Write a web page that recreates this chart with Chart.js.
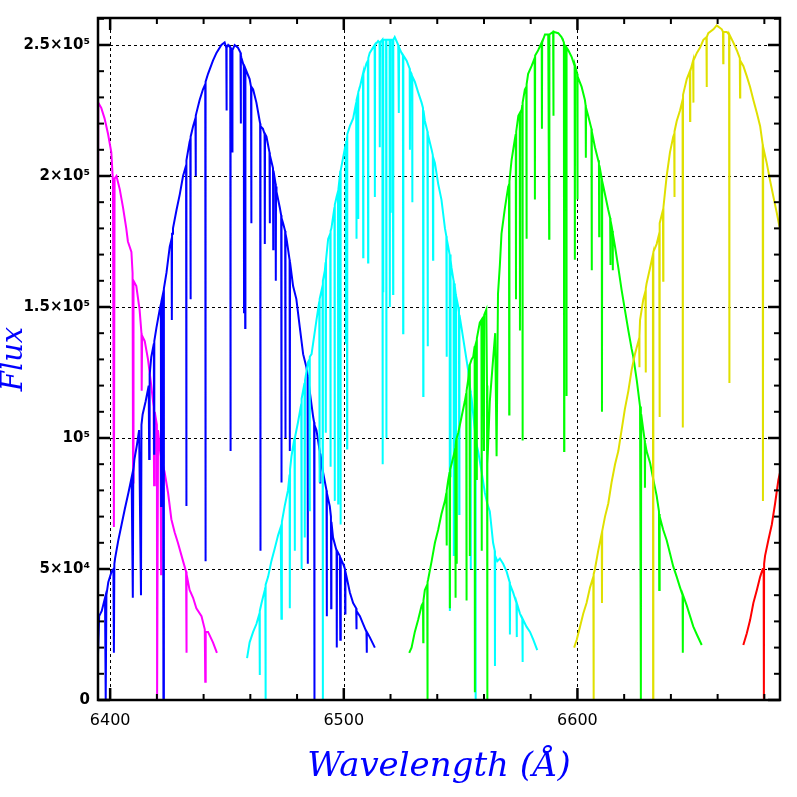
<!DOCTYPE html>
<html>
<head>
<meta charset="utf-8">
<script src="https://cdn.jsdelivr.net/npm/chart.js@4.4.1/dist/chart.umd.min.js"></script>
<style>
  html, body { margin: 0; padding: 0; background: #fff; overflow: hidden; }
  #wrap { width: 797px; height: 797px; }
</style>
</head>
<body>
<div id="wrap"><canvas id="c" width="797" height="797"></canvas></div>
<script>
// ---- Data: [wavelength (Å), flux (in units of 10^3)] ----
const FLUX_UNIT = 1000;

const magentaOrder = [[6394.6,76],[6394.9,228],[6396.2,226],[6397.6,222],[6399.1,216],[6400.5,209],[6401.2,198],[6401.6,66],[6401.9,199],[6402.7,200],[6404.1,195],[6405.5,188],[6406.9,180],[6407.6,175],[6409.1,171],[6409.6,163],[6409.8,83],[6410.0,160],[6411.2,158],[6412.6,149],[6413.4,140],[6413.5,118],[6413.7,139],[6414.8,137],[6416.2,130],[6417.6,120],[6418.6,112],[6418.8,82],[6419.1,110],[6420.0,105],[6420.1,0],[6420.5,103],[6421.6,93],[6421.8,48],[6421.9,92],[6423.3,87],[6424.8,79],[6426.2,69],[6427.6,64],[6429.0,60],[6431.2,53],[6432.5,49],[6432.6,18],[6432.8,48],[6434.0,42],[6435.5,39],[6436.9,35],[6439.1,32],[6440.5,27],[6440.7,7],[6440.9,26],[6441.9,26],[6444.0,22],[6445.7,18]];

const blueOrder = [[6394.6,11.5],[6395.3,32],[6396.4,34],[6397.8,39],[6398.1,0],[6398.4,40],[6399.2,45],[6400.6,49],[6401.4,50],[6401.6,18],[6401.8,52],[6402.1,54],[6403.5,61],[6404.9,67],[6406.3,73],[6407.8,79],[6409.2,85],[6409.7,39],[6409.9,87],[6410.4,92],[6411.4,97],[6412.4,103],[6413.2,40],[6413.4,105],[6413.9,109],[6415.2,114],[6416.5,120],[6416.7,92],[6416.9,124],[6417.6,131],[6418.7,136],[6418.8,94],[6418.9,137],[6419.8,142],[6421.2,149],[6421.7,151],[6421.8,74],[6421.9,152],[6422.6,155],[6422.8,0],[6423.0,157],[6424.1,163],[6425.5,173],[6426.3,176],[6426.4,145],[6426.5,178],[6426.9,180],[6428.4,187],[6429.8,193],[6431.2,200],[6432.5,204],[6432.6,74],[6432.7,206],[6434.0,213],[6434.3,214],[6434.4,153],[6434.5,215],[6435.5,219],[6436.5,222],[6436.6,200],[6436.7,223],[6436.9,224],[6438.3,229],[6439.7,233],[6440.7,235],[6440.8,53],[6440.9,236],[6441.9,239],[6444.0,244],[6445.5,247],[6447.6,250],[6449.0,251],[6449.7,249],[6449.8,225],[6449.9,249],[6450.5,250],[6451.4,249],[6451.5,95],[6451.6,249],[6452.2,248],[6452.3,209],[6452.4,248],[6453.3,250],[6454.7,249],[6455.8,247],[6455.9,220],[6456.0,246],[6456.2,245],[6457.2,242],[6457.3,148],[6457.4,242],[6457.7,241],[6457.8,142],[6457.9,241],[6459.7,237],[6460.3,234],[6460.4,182],[6460.5,234],[6461.2,233],[6462.6,228],[6464.0,221],[6464.2,220],[6464.3,57],[6464.4,219],[6465.4,218],[6466.1,216],[6466.2,174],[6466.3,216],[6466.9,215],[6468.2,209],[6468.3,182],[6468.4,208],[6469.7,203],[6469.8,172],[6469.9,202],[6470.8,197],[6470.9,160],[6471.0,196],[6471.2,194],[6472.6,188],[6473.2,185],[6473.3,83],[6473.4,184],[6474.0,182],[6474.9,179],[6475.0,100],[6475.1,178],[6475.5,176],[6476.8,168],[6476.9,95],[6477.0,167],[6478.3,158],[6479.7,153],[6481.2,142],[6482.6,132],[6484.0,127],[6484.5,124],[6484.6,52],[6484.7,123],[6485.4,118],[6486.9,108],[6487.3,106],[6487.4,0],[6487.5,105],[6488.3,103],[6489.7,95],[6489.9,83],[6490.0,94],[6491.1,87],[6492.6,80],[6492.7,32],[6492.8,79],[6494.0,74],[6494.5,70],[6494.6,35],[6494.7,68],[6495.4,62],[6496.9,57],[6497.0,20],[6497.1,57],[6498.3,55],[6498.5,23],[6498.7,54],[6499.7,52],[6500.5,50],[6500.6,33],[6500.7,49],[6501.2,47],[6502.6,41],[6504.0,37],[6505.3,35],[6505.4,27],[6505.5,34],[6506.9,32],[6508.3,29],[6509.7,26],[6509.8,18],[6509.9,26],[6511.1,24],[6513.3,20]];

const cyanOrder = [[6458.6,16],[6459.7,22],[6461.2,26],[6462.6,29],[6463.9,33],[6464.0,9.5],[6464.1,34],[6464.8,37],[6466.2,42],[6466.4,43],[6466.5,0],[6466.6,44],[6467.6,47],[6469.0,53],[6470.5,58],[6471.9,63],[6473.0,66],[6473.3,31],[6473.5,68],[6474.7,74],[6476.1,80],[6476.8,86],[6476.9,35],[6477.0,88],[6477.6,93],[6478.9,100],[6479.0,57],[6479.1,100],[6480.4,106],[6481.8,113],[6481.9,50],[6482.0,115],[6483.2,121],[6483.3,62],[6483.4,122],[6484.7,129],[6485.3,130],[6485.4,72],[6485.5,131],[6486.2,132],[6488.3,145],[6489.5,152],[6489.6,83],[6489.7,153],[6490.9,158],[6491.0,0],[6491.1,160],[6491.9,164],[6492.2,167],[6492.3,102],[6492.4,168],[6493.3,176],[6494.2,178],[6494.3,89],[6494.4,179],[6494.7,180],[6496.0,188],[6496.1,76],[6496.2,189],[6496.9,192],[6497.5,194],[6497.6,75],[6497.7,195],[6498.3,200],[6498.5,202],[6498.6,67],[6498.7,202],[6499.7,207],[6500.8,212],[6500.9,136],[6501.0,213],[6501.3,215],[6501.4,96],[6501.5,216],[6502.6,219],[6504.0,222],[6505.3,228],[6505.4,176],[6505.5,229],[6506.0,231],[6506.1,184],[6506.2,232],[6506.9,234],[6508.2,239],[6508.3,169],[6508.4,239],[6509.7,243],[6510.3,244],[6510.4,167],[6510.5,245],[6511.1,247],[6513.2,250],[6513.3,192],[6513.4,250],[6514.7,251.5],[6515.3,251],[6515.4,211],[6515.5,251],[6516.5,252],[6516.6,90],[6516.7,252],[6516.8,156],[6516.9,252],[6518.1,252],[6518.2,100],[6518.3,252],[6519.6,252],[6519.7,150],[6519.8,252],[6520.0,252],[6520.1,186],[6520.2,252],[6521.0,252],[6521.1,155],[6521.2,252],[6521.8,253],[6523.3,250],[6523.5,249],[6523.6,224],[6523.7,249],[6524.7,247],[6525.3,246],[6525.4,140],[6525.5,246],[6526.9,244],[6528.2,241],[6528.3,210],[6528.4,240],[6529.0,239],[6529.2,238],[6529.3,190],[6529.4,238],[6530.4,236],[6531.8,232],[6533.3,228],[6533.9,226],[6534.0,116],[6534.1,225],[6534.7,221],[6535.8,217],[6535.9,135],[6536.0,216],[6537.6,210],[6538.1,208],[6538.2,168],[6538.3,207],[6539.0,205],[6540.4,197],[6541.8,191],[6543.3,180],[6543.9,177],[6544.0,131],[6544.1,176],[6544.7,173],[6545.3,170],[6545.4,34],[6545.5,170],[6545.6,169],[6545.7,85],[6545.8,168],[6546.1,165],[6547.0,160],[6547.1,55],[6547.2,159],[6547.5,158],[6547.9,155],[6548.0,52],[6548.1,154],[6549.0,150],[6549.3,148],[6549.4,71],[6549.5,147],[6550.4,142],[6551.8,134],[6553.2,126],[6554.2,118],[6554.3,50],[6554.4,117],[6554.7,115],[6556.1,103],[6556.3,100],[6556.4,0],[6556.5,99],[6557.5,95],[6559.0,87],[6560.4,79],[6561.4,75],[6562.5,72],[6563.9,60],[6564.6,57],[6564.7,13],[6564.8,55],[6565.7,53],[6566.8,54],[6568.2,52],[6569.7,49],[6571.0,45],[6571.1,25],[6571.2,44],[6572.5,41],[6573.9,37],[6574.0,24],[6574.1,37],[6575.4,33],[6576.4,31],[6576.5,14.5],[6576.6,31],[6578.2,28],[6579.7,26],[6581.1,23],[6582.8,19]];

const greenOrder = [[6528.0,18],[6529.0,20],[6530.4,26],[6531.8,30.5],[6533.3,36],[6533.9,37],[6534.0,22],[6534.1,38],[6534.7,42],[6535.7,44],[6535.8,0],[6535.9,45],[6536.1,46],[6537.6,53],[6539.0,60],[6540.4,65],[6541.8,71],[6543.3,76],[6543.9,79],[6544.0,59],[6544.1,80],[6544.7,84],[6545.3,87],[6545.4,35],[6545.5,88],[6546.1,90],[6547.5,95],[6547.7,96],[6547.8,39],[6547.9,97],[6548.2,100],[6548.3,52],[6548.4,100],[6549.0,102],[6550.4,108],[6551.8,114],[6552.4,117],[6552.5,38],[6552.6,118],[6553.2,122],[6553.8,128],[6553.9,55],[6554.0,128],[6554.7,130],[6555.4,131],[6556.0,135],[6556.1,3],[6556.2,135],[6556.8,137],[6556.9,84],[6557.0,138],[6558.2,144],[6558.9,145],[6559.0,57],[6559.1,145],[6559.7,146],[6560.0,95],[6560.1,147],[6561.0,149],[6561.3,120],[6561.4,0],[6561.5,90],[6562.5,114],[6563.9,130],[6564.8,140],[6565.4,93],[6566.0,155],[6566.8,166],[6567.5,178],[6569.0,188],[6570.4,196],[6570.7,197],[6570.8,109],[6570.9,198],[6571.8,206],[6573.2,214],[6573.6,216],[6573.7,153],[6573.8,217],[6574.7,223],[6575.3,224],[6575.4,141],[6575.5,224],[6576.1,225],[6576.4,227],[6576.5,99],[6576.6,228],[6577.5,233],[6578.1,234],[6578.2,176],[6578.3,235],[6578.9,239],[6580.4,242],[6581.7,245],[6581.8,191],[6581.9,246],[6583.2,248],[6584.7,251],[6584.8,218],[6584.9,251],[6586.1,254],[6587.5,254],[6587.8,254],[6587.9,176],[6588.0,254],[6589.6,255],[6589.7,223],[6589.8,255],[6591.8,254.5],[6593.2,253],[6594.2,251],[6594.3,95],[6594.4,250],[6594.7,249],[6595.2,249],[6595.3,116],[6595.4,249],[6596.1,248],[6597.5,245.5],[6598.8,242],[6598.9,168],[6599.0,242],[6599.9,239],[6600.0,191],[6600.1,238],[6601.8,234],[6603.2,229],[6603.5,227],[6603.6,207],[6603.7,226],[6604.6,223],[6606.0,218],[6606.1,164],[6606.2,217],[6607.5,211],[6608.9,206],[6609.2,205],[6609.3,177],[6609.4,204],[6610.4,199],[6610.5,110],[6610.6,198],[6611.8,193],[6613.2,187],[6614.0,184],[6614.1,166],[6614.2,183],[6614.6,181],[6615.0,179],[6615.1,164],[6615.2,178],[6616.1,173],[6617.5,165],[6618.9,156.5],[6620.3,149],[6621.8,141],[6623.2,134],[6623.9,131],[6625.4,122],[6626.8,112],[6627.1,110],[6627.2,0],[6627.3,109],[6628.2,103],[6628.8,99],[6628.9,81],[6629.0,98],[6629.6,95],[6631.1,90.5],[6632.5,84],[6633.9,78],[6634.9,72],[6635.0,42],[6635.1,71],[6635.3,70],[6636.7,65],[6638.2,61],[6639.6,56],[6641.0,51],[6642.5,47],[6643.9,43],[6645.0,40],[6645.1,18],[6645.2,40],[6646.8,36],[6648.2,32],[6649.6,28],[6651.1,25],[6653.2,21]];

const yellowOrder = [[6598.6,20],[6599.7,23],[6601.1,28],[6602.5,33],[6603.9,37],[6605.4,43],[6606.8,47],[6606.9,0],[6607.0,48],[6607.5,50],[6608.9,57],[6610.4,63.6],[6610.5,37],[6610.6,64.5],[6611.8,70],[6613.2,75],[6614.6,83],[6616.1,90],[6617.5,95],[6618.9,103],[6620.3,111],[6621.8,118],[6623.2,126],[6624.6,132],[6626.4,138],[6626.5,127],[6626.6,139],[6626.8,145],[6628.2,153],[6629.1,156],[6629.2,125],[6629.3,157],[6629.6,159],[6631.1,165],[6632.3,170],[6632.4,0],[6632.5,171],[6633.9,174],[6635.0,178],[6635.1,108],[6635.2,180],[6635.3,182],[6636.6,187],[6636.7,160],[6636.8,188],[6638.2,200],[6639.6,209],[6641.0,215],[6641.4,216],[6641.5,192],[6641.6,217],[6642.5,221],[6643.9,225],[6645.0,229],[6645.1,104],[6645.2,231],[6646.8,237],[6648.1,240],[6648.2,221],[6648.3,240],[6649.5,244],[6649.6,228],[6649.7,244],[6651.1,247],[6652.5,249],[6653.9,252],[6655.2,253],[6655.3,234],[6655.4,253],[6656.0,254.5],[6658.2,256],[6659.6,257.5],[6661.8,256],[6662.3,255],[6662.4,243],[6662.5,255],[6663.9,255],[6664.9,254],[6665.0,121],[6665.1,254],[6666.7,251],[6668.2,248],[6669.5,245],[6669.6,230],[6669.7,244],[6671.0,242],[6672.5,238],[6673.9,234],[6675.3,229],[6676.8,224],[6678.2,219],[6679.3,212],[6679.4,76],[6679.5,211],[6681.0,205],[6682.4,198.5],[6683.9,192],[6685.3,186],[6686.4,181],[6688.0,175]];

const redOrder = [[6671.0,21],[6672.5,25.5],[6673.9,30.5],[6675.3,37],[6676.8,42],[6678.2,47],[6679.3,50],[6679.7,50],[6679.8,0],[6679.9,52],[6680.3,55],[6681.7,61],[6683.2,67],[6684.6,75],[6686.0,84],[6688.0,92]];

const seriesNames  = ['magenta', 'blue', 'cyan', 'green', 'yellow', 'red'];
const seriesColors = ['#ff00ff', '#0000ff', '#00ffff', '#00ff00', '#e0e000', '#ff0000'];
const seriesData   = [magentaOrder, blueOrder, cyanOrder, greenOrder, yellowOrder, redOrder];

// Axis ticks
const xTickValues = [6400, 6500, 6600];
const xTickLabels = ['6400', '6500', '6600'];
const yTickValues = [0, 50000, 100000, 150000, 200000, 250000];
const yTickLabels = ['0', '5\u00d710\u2074', '10\u2075', '1.5\u00d710\u2075', '2\u00d710\u2075', '2.5\u00d710\u2075'];
const xMinorStep = 20;
const yMinorStep = 10000;
const xRange = [6394.8, 6686.7];
const yRange = [0, 260300];

const datasets = seriesData.map((arr, i) => ({
  label: seriesNames[i],
  data: arr.map(p => ({ x: p[0], y: p[1] * FLUX_UNIT })),
  borderColor: seriesColors[i],
  backgroundColor: seriesColors[i],
  borderWidth: 2,
  pointRadius: 0,
  tension: 0,
  fill: false,
  clip: 0,
  order: seriesData.length - i
}));

const frameAndGrid = {
  id: 'frameAndGrid',
  beforeDatasetsDraw(chart) {
    const { ctx, chartArea: a, scales: { x, y } } = chart;
    ctx.save();
    ctx.strokeStyle = '#000';
    ctx.lineWidth = 1;
    ctx.setLineDash([3, 3]);
    xTickValues.forEach(v => {
      const px = Math.round(x.getPixelForValue(v)) + 0.5;
      ctx.beginPath(); ctx.moveTo(px, a.top); ctx.lineTo(px, a.bottom); ctx.stroke();
    });
    yTickValues.forEach(v => {
      if (v === yRange[0]) return;
      const py = Math.round(y.getPixelForValue(v)) + 0.5;
      ctx.beginPath(); ctx.moveTo(a.left, py); ctx.lineTo(a.right, py); ctx.stroke();
    });
    ctx.restore();
  },
  afterDatasetsDraw(chart) {
    const { ctx, chartArea: a, scales: { x, y } } = chart;
    ctx.save();
    ctx.strokeStyle = '#000';
    ctx.setLineDash([]);
    const x0 = Math.ceil(xRange[0] / xMinorStep) * xMinorStep;
    for (let v = x0; v <= xRange[1]; v += xMinorStep) {
      const major = xTickValues.includes(v);
      const px = x.getPixelForValue(v);
      const len = major ? 12 : 6;
      ctx.lineWidth = major ? 2.5 : 2;
      ctx.beginPath(); ctx.moveTo(px, a.bottom); ctx.lineTo(px, a.bottom - len); ctx.stroke();
      ctx.beginPath(); ctx.moveTo(px, a.top); ctx.lineTo(px, a.top + len); ctx.stroke();
    }
    for (let v = yRange[0]; v <= yRange[1]; v += yMinorStep) {
      const major = yTickValues.includes(v);
      const py = y.getPixelForValue(v);
      const len = major ? 12 : 6;
      ctx.lineWidth = major ? 2.5 : 2;
      ctx.beginPath(); ctx.moveTo(a.left, py); ctx.lineTo(a.left + len, py); ctx.stroke();
      ctx.beginPath(); ctx.moveTo(a.right, py); ctx.lineTo(a.right - len, py); ctx.stroke();
    }
    ctx.lineWidth = 2.5;
    ctx.strokeRect(a.left, a.top, a.right - a.left, a.bottom - a.top);
    ctx.restore();
  }
};

new Chart(document.getElementById('c'), {
  type: 'line',
  data: { datasets },
  options: {
    responsive: false,
    animation: false,
    devicePixelRatio: 1,
    parsing: false,
    normalized: true,
    layout: { padding: { top: 18, right: 17, left: 0, bottom: 0 } },
    plugins: { legend: { display: false }, tooltip: { enabled: false } },
    elements: { line: { borderJoinStyle: 'miter' } },
    scales: {
      x: {
        type: 'linear',
        min: xRange[0],
        max: xRange[1],
        afterFit: s => { s.height = 97; },
        afterBuildTicks: s => { s.ticks = xTickValues.map(v => ({ value: v })); },
        grid: { display: false, drawTicks: false },
        border: { display: false },
        ticks: {
          autoSkip: false, maxRotation: 0, padding: 11, color: '#000',
          font: { family: 'DejaVu Sans', size: 16 },
          callback: (v, i) => xTickLabels[i]
        },
        title: {
          display: true, text: 'Wavelength (\u00c5)', color: '#0000ff',
          font: { family: 'DejaVu Serif', style: 'italic', size: 34, lineHeight: 1.2 },
          padding: { top: 0, bottom: 9 }
        }
      },
      y: {
        type: 'linear',
        min: yRange[0],
        max: yRange[1],
        afterFit: s => { s.width = 98; },
        afterBuildTicks: s => { s.ticks = yTickValues.map(v => ({ value: v })); },
        grid: { display: false, drawTicks: false },
        border: { display: false },
        ticks: {
          autoSkip: false, padding: 8, color: '#000',
          font: { family: 'DejaVu Sans', size: 15, weight: 'bold' },
          callback: (v, i) => yTickLabels[i]
        },
        title: {
          display: true, text: 'Flux', color: '#0000ff',
          font: { family: 'DejaVu Serif', style: 'italic', size: 29, lineHeight: 1 },
          padding: { top: 0, bottom: 0 }
        }
      }
    }
  },
  plugins: [frameAndGrid]
});
</script>
</body>
</html>
